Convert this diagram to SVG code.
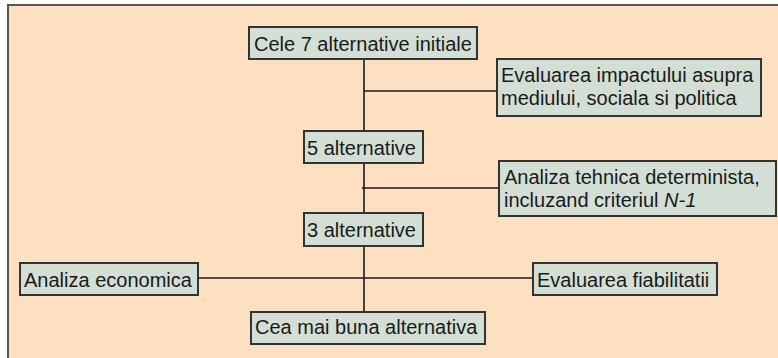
<svg xmlns="http://www.w3.org/2000/svg" width="778" height="358" viewBox="0 0 778 358">
<style>
.box{fill:#D3DFD5;stroke:#333333;stroke-width:2}
.t{font-family:"Liberation Sans",Arial,sans-serif;font-size:20px;fill:#1a1a1a}
.c{stroke:#1a1a1a;stroke-width:1.6;fill:none}
</style>
<rect x="8" y="5" width="775" height="360" fill="#FDE0C2" stroke="#555555" stroke-width="2"/>
<g id="connectors">
<line class="c" x1="364" y1="59" x2="364" y2="131"/>
<line class="c" x1="364" y1="163" x2="364" y2="213"/>
<line class="c" x1="364" y1="246" x2="364" y2="312"/>
<line class="c" x1="364" y1="91" x2="497" y2="91"/>
<line class="c" x1="362" y1="188" x2="499" y2="188" stroke-width="2.2"/>
<line class="c" x1="198" y1="278" x2="533" y2="278"/>
</g>
<g id="n1"><rect class="box" x="249" y="27" width="228" height="32"/><text class="t" x="254" y="51">Cele 7 alternative initiale</text></g>
<g id="n2"><rect class="box" x="497" y="59" width="264" height="57"/><text class="t" x="501" y="82">Evaluarea impactului asupra</text><text class="t" x="501" y="105">mediului, sociala si politica</text></g>
<g id="n3"><rect class="box" x="304" y="131" width="119" height="32"/><text class="t" x="307" y="155">5 alternative</text></g>
<g id="n4"><rect class="box" x="499" y="161" width="277" height="55"/><text class="t" x="504" y="184">Analiza tehnica determinista,</text><text class="t" x="504" y="207">incluzand criteriul <tspan font-style="italic">N-1</tspan></text></g>
<g id="n5"><rect class="box" x="304" y="213" width="119" height="33"/><text class="t" x="307" y="237">3 alternative</text></g>
<g id="n6"><rect class="box" x="20" y="263" width="178" height="32"/><text class="t" x="24" y="287">Analiza economica</text></g>
<g id="n7"><rect class="box" x="533" y="263" width="184" height="32"/><text class="t" x="537" y="287">Evaluarea fiabilitatii</text></g>
<g id="n8"><rect class="box" x="251" y="312" width="234" height="32"/><text class="t" x="255" y="334">Cea mai buna alternativa</text></g>
</svg>
